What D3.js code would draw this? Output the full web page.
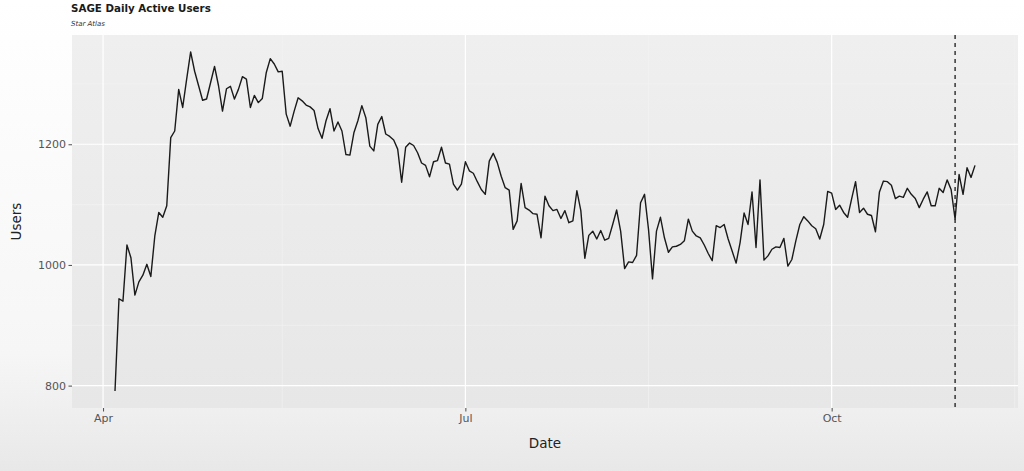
<!DOCTYPE html>
<meta charset="utf-8">
<style>
  body { margin: 0; background: #ffffff; }
  svg { display: block; font-family: "DejaVu Sans", sans-serif; }
</style>
<body>

<div id="chart"></div>

<script src="https://cdn.jsdelivr.net/npm/d3@7"></script>

<script>
// data: one value per day, starting on the first date
var startDate = "2024-04-04";
var users = [
  791, 944, 940, 1033, 1012, 950, 972, 983, 1001, 981,
  1048, 1087, 1079, 1098, 1211, 1222, 1291, 1261, 1308, 1353,
  1321, 1297, 1273, 1275, 1302, 1329, 1297, 1255, 1292, 1296,
  1275, 1291, 1312, 1308, 1261, 1281, 1269, 1276, 1319, 1342,
  1333, 1320, 1321, 1250, 1230, 1255, 1277, 1272, 1265, 1262,
  1256, 1226, 1210, 1239, 1259, 1222, 1237, 1222, 1183, 1182,
  1219, 1239, 1264, 1244, 1197, 1189, 1233, 1246, 1217, 1213,
  1207, 1192, 1137, 1195, 1202, 1198, 1186, 1169, 1165, 1146,
  1171, 1173, 1195, 1169, 1167, 1134, 1124, 1134, 1171, 1156,
  1152, 1138, 1125, 1117, 1172, 1185, 1170, 1147, 1128, 1124,
  1059, 1073, 1135, 1095, 1091, 1085, 1084, 1045, 1114, 1098,
  1090, 1092, 1077, 1090, 1070, 1073, 1123, 1090, 1011, 1049,
  1056, 1043, 1057, 1041, 1044, 1067, 1091, 1056, 994, 1005,
  1004, 1016, 1103, 1117, 1059, 977, 1056, 1079, 1045, 1021,
  1030, 1031, 1034, 1040, 1076, 1056, 1048, 1045, 1033, 1019,
  1007, 1065, 1062, 1067, 1043, 1023, 1003, 1037, 1086, 1067,
  1121, 1029, 1141, 1008, 1015, 1026, 1030, 1029, 1044, 998,
  1009, 1040, 1067, 1080, 1073, 1065, 1060, 1043, 1067, 1122,
  1119, 1092, 1099, 1087, 1079, 1109, 1138, 1087, 1094, 1084,
  1082, 1055, 1121, 1139, 1138, 1132, 1110, 1114, 1112, 1127,
  1117, 1110, 1095, 1109, 1121, 1098, 1098, 1127, 1120, 1141,
  1125, 1076, 1150, 1117, 1161, 1145, 1165
];
var yTicks = [800, 1000, 1200];
var yMinor = [900, 1100, 1300];
var xTicks = ["2024-04-01", "2024-07-01", "2024-10-01"];
var xTickLabels = ["Apr", "Jul", "Oct"];
var xMinor = ["2024-02-15", "2024-05-16", "2024-08-16", "2024-11-16"];
var markerDate = "2024-11-01";

var title = "SAGE Daily Active Users",
    subtitle = "Star Atlas",
    xTitle = "Date",
    yTitle = "Users";

// dimensions of the page and the grey panel
var width = 1024, height = 471;
var panel = {left: 72, right: 1018, top: 35, bottom: 408};

var parse = d3.timeParse("%Y-%m-%d");
var day0 = parse(startDate);
var data = users.map(function(v, i) {
  return {date: d3.timeDay.offset(day0, i), value: v};
});

// ggplot style 5% expansion of both scales
var tExtent = d3.extent(data, function(d) { return d.date; });
var tPad = (tExtent[1] - tExtent[0]) * 0.05;
var x = d3.scaleTime()
    .domain([new Date(+tExtent[0] - tPad), new Date(+tExtent[1] + tPad)])
    .range([panel.left, panel.right]);

var vExtent = d3.extent(users);
var vPad = (vExtent[1] - vExtent[0]) * 0.05;
var y = d3.scaleLinear()
    .domain([vExtent[0] - vPad, vExtent[1] + vPad])
    .range([panel.bottom, panel.top]);

var svg = d3.select("#chart").append("svg")
    .attr("width", width)
    .attr("height", height);

// background gradients
var defs = svg.append("defs");
var bg = defs.append("linearGradient").attr("id", "bg")
    .attr("x1", 0).attr("y1", 0).attr("x2", 0).attr("y2", 1);
bg.append("stop").attr("offset", "0%").attr("stop-color", "#ffffff");
bg.append("stop").attr("offset", "75%").attr("stop-color", "#f6f6f6");
bg.append("stop").attr("offset", "100%").attr("stop-color", "#e8e8e8");

var pg = defs.append("linearGradient").attr("id", "pg")
    .attr("x1", 0).attr("y1", 0).attr("x2", 0).attr("y2", 1);
pg.append("stop").attr("offset", "0%").attr("stop-color", "#efefef");
pg.append("stop").attr("offset", "100%").attr("stop-color", "#e7e7e7");

svg.append("rect")
    .attr("width", width)
    .attr("height", height)
    .style("fill", "url(#bg)");

svg.append("rect")
    .attr("x", panel.left)
    .attr("y", panel.top)
    .attr("width", panel.right - panel.left)
    .attr("height", panel.bottom - panel.top)
    .style("fill", "url(#pg)");

// minor grid lines
var grid = svg.append("g");
grid.selectAll(".ymin")
    .data(yMinor)
  .enter().append("line")
    .attr("x1", panel.left).attr("x2", panel.right)
    .attr("y1", function(d) { return y(d); })
    .attr("y2", function(d) { return y(d); })
    .style("stroke", "#f3f3f3")
    .style("stroke-width", "0.6px");

grid.selectAll(".xmin")
    .data(xMinor.map(parse).filter(function(d) {
      return x(d) > panel.left && x(d) < panel.right;
    }))
  .enter().append("line")
    .attr("x1", function(d) { return x(d); })
    .attr("x2", function(d) { return x(d); })
    .attr("y1", panel.top).attr("y2", panel.bottom)
    .style("stroke", "#f3f3f3")
    .style("stroke-width", "0.6px");

// major grid lines
grid.selectAll(".ymaj")
    .data(yTicks)
  .enter().append("line")
    .attr("x1", panel.left).attr("x2", panel.right)
    .attr("y1", function(d) { return y(d); })
    .attr("y2", function(d) { return y(d); })
    .style("stroke", "#ffffff")
    .style("stroke-width", "1.2px");

grid.selectAll(".xmaj")
    .data(xTicks.map(parse))
  .enter().append("line")
    .attr("x1", function(d) { return x(d); })
    .attr("x2", function(d) { return x(d); })
    .attr("y1", panel.top).attr("y2", panel.bottom)
    .style("stroke", "#ffffff")
    .style("stroke-width", "1.2px");

// the line
var valueline = d3.line()
    .x(function(d) { return x(d.date); })
    .y(function(d) { return y(d.value); });

svg.append("path")
    .datum(data)
    .attr("d", valueline)
    .style("fill", "none")
    .style("stroke", "#1a1a1a")
    .style("stroke-width", "1.4px")
    .style("stroke-linejoin", "round");

// dashed marker
svg.append("line")
    .attr("x1", x(parse(markerDate)))
    .attr("x2", x(parse(markerDate)))
    .attr("y1", panel.top)
    .attr("y2", panel.bottom)
    .style("stroke", "#1a1a1a")
    .style("stroke-width", "1.3px")
    .style("stroke-dasharray", "4,4");

// x axis
var xAxis = svg.append("g")
    .attr("transform", "translate(0," + panel.bottom + ")")
    .call(d3.axisBottom(x)
      .tickValues(xTicks.map(parse))
      .tickFormat(function(d, i) { return xTickLabels[i]; })
      .tickSize(3.5)
      .tickPadding(2.5));
xAxis.select(".domain").remove();
xAxis.selectAll("line").style("stroke", "#4d4d4d").style("stroke-width", "1px");
xAxis.selectAll("text")
    .style("font-family", "'DejaVu Sans'")
    .style("font-size", "11px")
    .style("fill", "#555555");

// y axis
var yAxis = svg.append("g")
    .attr("transform", "translate(" + panel.left + ",0)")
    .call(d3.axisLeft(y)
      .tickValues(yTicks)
      .tickFormat(d3.format("d"))
      .tickSize(3.5)
      .tickPadding(2.5));
yAxis.select(".domain").remove();
yAxis.selectAll("line").style("stroke", "#4d4d4d").style("stroke-width", "1px");
yAxis.selectAll("text")
    .style("font-family", "'DejaVu Sans'")
    .style("font-size", "11px")
    .style("fill", "#555555");

// axis titles
svg.append("text")
    .attr("x", (panel.left + panel.right) / 2)
    .attr("y", 448)
    .style("text-anchor", "middle")
    .style("font-size", "13.5px")
    .style("fill", "#222222")
    .text(xTitle);

svg.append("text")
    .attr("transform", "translate(21," + ((panel.top + panel.bottom) / 2) + ") rotate(-90)")
    .style("text-anchor", "middle")
    .style("font-size", "13.5px")
    .style("fill", "#222222")
    .text(yTitle);

// title and subtitle
svg.append("text")
    .attr("x", 71)
    .attr("y", 12)
    .style("font-size", "10.3px")
    .style("font-weight", "bold")
    .style("fill", "#1a1a1a")
    .text(title);

svg.append("text")
    .attr("x", 71)
    .attr("y", 25.5)
    .style("font-size", "7px")
    .style("font-style", "italic")
    .style("fill", "#333333")
    .text(subtitle);
</script>

</body>
